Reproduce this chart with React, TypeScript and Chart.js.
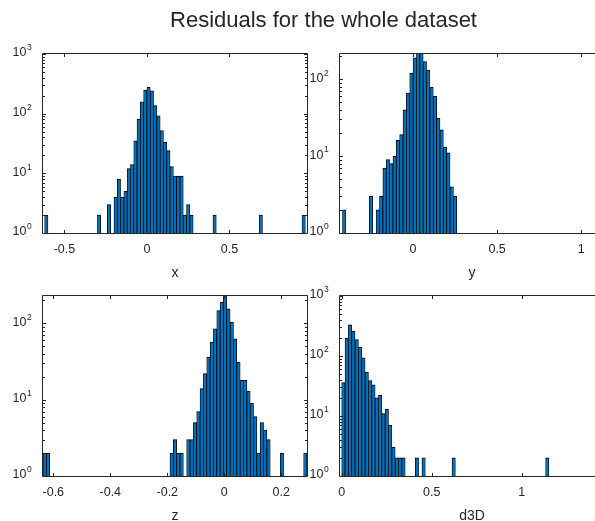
import React, { useEffect, useRef } from 'react';
import { Chart, registerables } from 'chart.js';

Chart.register(...registerables);

// ---------------- data ----------------
const FIG_TITLE = 'Residuals for the whole dataset';

// x residuals (bin centres, counts)
const xBinCenters = [-0.61, -0.29, -0.23, -0.19, -0.17, -0.15, -0.13, -0.11, -0.09, -0.07, -0.05, -0.03, -0.01, 0.01, 0.03, 0.05, 0.07, 0.09, 0.11, 0.13, 0.15, 0.17, 0.19, 0.21, 0.23, 0.25, 0.27, 0.41, 0.69, 0.95];
const xCounts = [2, 2, 3, 4, 8, 4, 5, 12, 14, 35, 81, 158, 248, 276, 242, 136, 92, 52, 33, 24, 13, 9, 9, 9, 2, 3, 2, 2, 2, 2];
const xTickValues = [-0.5, 0, 0.5];
const xTickLabels = ['-0.5', '0', '0.5'];

// y residuals
const yBinCenters = [-0.41, -0.25, -0.21, -0.19, -0.17, -0.15, -0.13, -0.11, -0.09, -0.07, -0.05, -0.03, -0.01, 0.01, 0.03, 0.05, 0.07, 0.09, 0.11, 0.13, 0.15, 0.17, 0.19, 0.21, 0.23, 0.25];
const yCounts = [2, 3, 2, 3, 7, 9, 8, 10, 16, 19, 40, 66, 120, 190, 230, 230, 170, 132, 79, 60, 31, 22, 13, 11, 4, 3];
const yTickValues = [0, 0.5, 1];
const yTickLabels = ['0', '0.5', '1'];

// z residuals
const zBinCenters = [-0.6302, -0.6185, -0.1847, -0.1730, -0.1612, -0.1495, -0.1261, -0.1143, -0.1026, -0.0909, -0.0792, -0.0674, -0.0557, -0.0440, -0.0323, -0.0205, -0.0088, 0.0029, 0.0146, 0.0264, 0.0381, 0.0498, 0.0615, 0.0733, 0.0850, 0.0967, 0.1084, 0.1202, 0.1319, 0.1436, 0.1553, 0.2022, 0.2843];
const zCounts = [2, 2, 2, 3, 2, 2, 3, 3, 5, 7, 14, 22, 36, 57, 85, 148, 190, 240, 155, 104, 63, 31, 18, 18, 13, 9, 6, 2, 5, 4, 3, 2, 2];
const zTickValues = [-0.6, -0.4, -0.2, 0, 0.2];
const zTickLabels = ['-0.6', '-0.4', '-0.2', '0', '0.2'];

// 3D distance residuals
const dBinCenters = [0.0093, 0.0279, 0.0464, 0.0650, 0.0836, 0.1021, 0.1207, 0.1393, 0.1578, 0.1764, 0.1950, 0.2136, 0.2321, 0.2507, 0.2693, 0.2878, 0.3064, 0.3250, 0.3435, 0.4178, 0.4550, 0.6221, 1.1420];
const dCounts = [36, 199, 332, 257, 188, 140, 93, 54, 39, 33, 20, 22, 11, 13, 7, 3, 2, 2, 2, 2, 2, 2, 2];
const dTickValues = [0, 0.5, 1];
const dTickLabels = ['0', '0.5', '1'];

// ---------------- style ----------------
const FONT = '"Liberation Sans", Arial, Helvetica, sans-serif';
const TEXT_COLOR = '#262626';
const AXIS_COLOR = '#262626';
const BAR_COLOR = '#0072BD';
const EDGE_COLOR = '#000000';
const TICK_FS = 12.5;
const SUP_FS = 8.5;
const LABEL_FS = 14;
const TICK_LEN = 3;
const MINOR_LEN = 2;
const CW = 620;
const CH = 521;

type Panel = {
  centers: number[];
  counts: number[];
  xMin: number;
  xMax: number;
  yMax: number;
  yDecades: number[];
  xTicks: number[];
  xLabels: string[];
  label: string;
  area: { left: number; top: number; right: number; bottom: number };
};

const panels: Panel[] = [
  { centers: xBinCenters, counts: xCounts, xMin: -0.63, xMax: 0.97, yMax: 1000, yDecades: [0, 1, 2, 3], xTicks: xTickValues, xLabels: xTickLabels, label: 'x', area: { left: 43, top: 54, right: 307, bottom: 233 } },
  { centers: yBinCenters, counts: yCounts, xMin: -0.435, xMax: 1.136, yMax: 213, yDecades: [0, 1, 2], xTicks: yTickValues, xLabels: yTickLabels, label: 'y', area: { left: 340, top: 54, right: 604, bottom: 233 } },
  { centers: zBinCenters, counts: zCounts, xMin: -0.6361, xMax: 0.2902, yMax: 229, yDecades: [0, 1, 2], xTicks: zTickValues, xLabels: zTickLabels, label: 'z', area: { left: 43, top: 296, right: 307, bottom: 476 } },
  { centers: dBinCenters, counts: dCounts, xMin: -0.0094, xMax: 1.457, yMax: 1000, yDecades: [0, 1, 2, 3], xTicks: dTickValues, xLabels: dTickLabels, label: 'd3D', area: { left: 340, top: 296, right: 604, bottom: 476 } },
];

function makeAxesPlugin(p: Panel) {
  return {
    id: 'matlabAxes',
    afterDraw(chart: any) {
      const { ctx, chartArea } = chart;
      const { left: L, right: R, top: T, bottom: B } = chartArea;
      const xs = chart.scales.x;
      const ys = chart.scales.y;
      ctx.save();
      ctx.strokeStyle = AXIS_COLOR;
      ctx.lineWidth = 1;
      ctx.beginPath();
      ctx.rect(L - 0.5, T - 0.5, R - L + 1, B - T + 1);
      ctx.stroke();

      ctx.beginPath();
      for (const v of p.xTicks) {
        const px = Math.round(xs.getPixelForValue(v)) + 0.5;
        ctx.moveTo(px, B);
        ctx.lineTo(px, B - TICK_LEN);
        ctx.moveTo(px, T);
        ctx.lineTo(px, T + TICK_LEN);
      }
      for (const d of p.yDecades) {
        const py = Math.round(ys.getPixelForValue(Math.pow(10, d))) + 0.5;
        ctx.moveTo(L, py);
        ctx.lineTo(L + TICK_LEN, py);
        ctx.moveTo(R, py);
        ctx.lineTo(R - TICK_LEN, py);
      }
      ctx.stroke();

      ctx.beginPath();
      for (let d = 0; d < 4; d++) {
        for (let m = 2; m <= 9; m++) {
          const v = m * Math.pow(10, d);
          if (v >= p.yMax) continue;
          const py = Math.round(ys.getPixelForValue(v)) + 0.5;
          ctx.moveTo(L, py);
          ctx.lineTo(L + MINOR_LEN, py);
          ctx.moveTo(R, py);
          ctx.lineTo(R - MINOR_LEN, py);
        }
      }
      ctx.stroke();

      ctx.fillStyle = TEXT_COLOR;
      ctx.textBaseline = 'middle';
      ctx.textAlign = 'center';
      ctx.font = `${TICK_FS}px ${FONT}`;
      p.xTicks.forEach((v, i) => {
        ctx.fillText(p.xLabels[i], xs.getPixelForValue(v), B + 17);
      });

      for (const d of p.yDecades) {
        const py = ys.getPixelForValue(Math.pow(10, d));
        ctx.font = `${TICK_FS}px ${FONT}`;
        ctx.textAlign = 'right';
        ctx.fillText('10', L - 16.5, py - 1);
        ctx.font = `${SUP_FS}px ${FONT}`;
        ctx.textAlign = 'left';
        ctx.fillText(String(d), L - 16, py - 6);
      }

      ctx.font = `${LABEL_FS}px ${FONT}`;
      ctx.textAlign = 'center';
      ctx.fillText(p.label, (L + R) / 2, B + 40);
      ctx.restore();
    },
  };
}

function HistPanel({ p }: { p: Panel }) {
  const ref = useRef<HTMLCanvasElement>(null);
  useEffect(() => {
    if (!ref.current) return;
    const chart = new Chart(ref.current, {
      type: 'bar',
      data: {
        datasets: [
          {
            data: p.centers.map((c, i) => ({ x: c, y: p.counts[i] })),
            backgroundColor: BAR_COLOR,
            borderColor: EDGE_COLOR,
            borderWidth: { top: 1, left: 0.8, right: 0.8, bottom: 0 },
            borderSkipped: false,
            categoryPercentage: 1,
            barPercentage: 1,
            clip: 0,
          } as any,
        ],
      },
      options: {
        responsive: false,
        maintainAspectRatio: false,
        animation: false,
        devicePixelRatio: 1,
        events: [],
        layout: {
          padding: {
            left: p.area.left,
            top: p.area.top,
            right: CW - p.area.right,
            bottom: CH - p.area.bottom,
          },
        },
        plugins: {
          legend: { display: false },
          tooltip: { enabled: false },
          title: { display: false },
        },
        scales: {
          x: { type: 'linear', min: p.xMin, max: p.xMax, display: false, offset: false },
          y: { type: 'logarithmic', min: 1, max: p.yMax, display: false },
        },
      } as any,
      plugins: [makeAxesPlugin(p)],
    });
    return () => chart.destroy();
  }, [p]);
  return (
    <canvas
      ref={ref}
      width={CW}
      height={CH}
      style={{ position: 'absolute', left: 0, top: 0, width: CW, height: CH }}
    />
  );
}

export default function App() {
  return (
    <div
      style={{
        position: 'fixed',
        left: 0,
        top: 0,
        width: 595,
        height: 521,
        overflow: 'hidden',
        background: '#ffffff',
      }}
    >
      {panels.map((p, i) => (
        <HistPanel key={i} p={p} />
      ))}
      <div
        style={{
          position: 'absolute',
          left: 323.5,
          top: 7,
          transform: 'translateX(-50%)',
          whiteSpace: 'nowrap',
          fontFamily: FONT,
          fontSize: 22,
          color: TEXT_COLOR,
          lineHeight: '26px',
        }}
      >
        {FIG_TITLE}
      </div>
    </div>
  );
}
